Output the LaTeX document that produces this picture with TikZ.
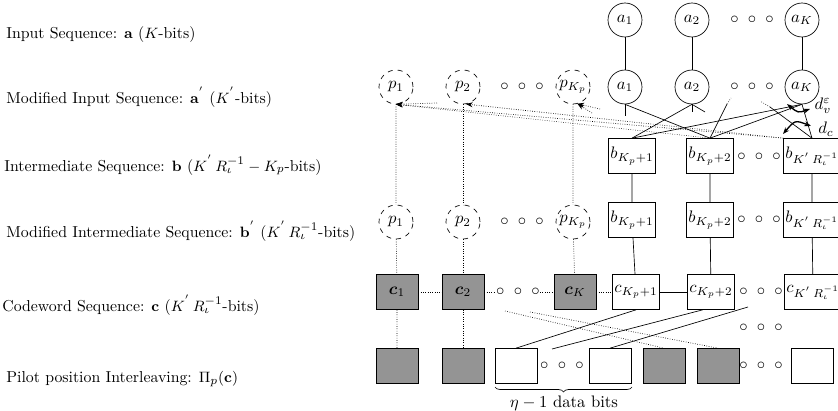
\documentclass[tikz,border=0pt]{standalone}
\usepackage{amsmath,bm}
\usetikzlibrary{decorations.pathreplacing,arrows.meta}
\begin{document}
\begin{tikzpicture}[x=0.6pt,y=-0.6pt,
	circ/.style={draw,circle,minimum size=20.4pt,inner sep=0pt},
	pcirc/.style={circ,dashed},
	bit/.style={draw,rectangle,minimum width=25.2pt,minimum height=21pt,inner sep=1pt},
	pilot/.style={bit,fill=black!42},
	dots/.style={inner sep=0pt},
	lbl/.style={anchor=west,inner sep=0pt,font=\fontsize{9.5}{11}\selectfont},
	pline/.style={densely dotted},
	parr/.style={densely dotted,-{Stealth[length=4pt,width=3pt]}},
	degarr/.style={line width=0.8pt,{Stealth[length=4pt]}-{Stealth[length=4pt]}}]
		\useasboundingbox (0,0) rectangle (838,411);
		\node [lbl] (la) at (6,35) {Input Sequence: $\mathbf{a}$ ($K$-bits)};
		\node [lbl] (lam) at (6,97) {Modified Input Sequence: $\mathbf{a}^{'}$ ($K^{'}$-bits)};
		\node [lbl] (lb) at (4,165) {Intermediate Sequence: $\mathbf{b}$ ($K^{'}\,R_{\iota}^{-1}-K_p$-bits)};
		\node [lbl] (lbm) at (6,231) {Modified Intermediate Sequence: $\mathbf{b}^{'}$ ($K^{'}\,R_{\iota}^{-1}$-bits)};
		\node [lbl] (lc) at (2,305) {Codeword Sequence: $\mathbf{c}$ ($K^{'}\,R_{\iota}^{-1}$-bits)};
		\node [lbl] (lpi) at (6,379) {Pilot position Interleaving: $\Pi_p(\mathbf{c})$};
		\node [circ] (a1) at (625,20) {$a_1$};
		\node [circ] (a2) at (692,20) {$a_2$};
		\node [circ] (aK) at (802,20) {$a_K$};
		\node [dots] (da) at (752,20) {$\circ\ \circ\ \circ$};
		\node [pcirc] (p1) at (396,87) {$p_1$};
		\node [pcirc] (p2) at (463,87) {$p_2$};
		\node [pcirc] (pK) at (573,87) {$p_{K_p}$};
		\node [dots] (dp) at (522,87) {$\circ\ \circ\ \circ$};
		\node [circ] (a1m) at (625,87) {$a_1$};
		\node [circ] (a2m) at (692,87) {$a_2$};
		\node [circ] (aKm) at (802,87) {$a_K$};
		\node [dots] (dam) at (752,87) {$\circ\ \circ\ \circ$};
		\node [bit] (b1) at (632,156) {$b_{K_p+1}$};
		\node [bit] (b2) at (710,156) {$b_{K_p+2}$};
		\node [bit] (bK) at (812,156) {$b_{K^{'}\,R_{\iota}^{-1}}$};
		\node [dots] (db) at (759,157) {$\circ\ \circ\ \circ$};
		\node [pcirc] (p1m) at (396,222) {$p_1$};
		\node [pcirc] (p2m) at (463,222) {$p_2$};
		\node [pcirc] (pKm) at (573,222) {$p_{K_p}$};
		\node [dots] (dpm) at (522,222) {$\circ\ \circ\ \circ$};
		\node [bit] (b1m) at (632,220) {$b_{K_p+1}$};
		\node [bit] (b2m) at (710,220) {$b_{K_p+2}$};
		\node [bit] (bKm) at (812,220) {$b_{K^{'}\,R_{\iota}^{-1}}$};
		\node [dots] (dbm) at (759,220) {$\circ\ \circ\ \circ$};
		\node [pilot] (c1) at (397,292) {$\bm{c}_1$};
		\node [pilot] (c2) at (463,292) {$\bm{c}_2$};
		\node [pilot] (cK) at (575,292) {$\bm{c}_K$};
		\node [dots] (dc1) at (518,292) {$\circ\ \circ\ \circ$};
		\node [bit] (cp1) at (636,292) {$c_{K_p+1}$};
		\node [bit] (cp2) at (711,292) {$c_{K_p+2}$};
		\node [bit] (cKR) at (813,292) {$c_{K^{'}\,R_{\iota}^{-1}}$};
		\node [dots] (dc2) at (761,292) {$\circ\ \circ\ \circ$};
		\node [dots] (dx) at (761,328) {$\circ\ \circ\ \circ$};
		\node [pilot] (q1) at (397,366) {};
		\node [pilot] (q2) at (463,366) {};
		\node [bit] (q3) at (516,366) {};
		\node [dots] (dq1) at (562,366) {$\circ\ \circ\ \circ$};
		\node [bit] (q4) at (610,366) {};
		\node [pilot] (q5) at (664,366) {};
		\node [pilot] (q6) at (718,366) {};
		\node [dots] (dq2) at (761,366) {$\circ\ \circ\ \circ$};
		\node [bit] (q7) at (812,366) {};
		\draw (a1) -- (a1m);
		\draw (a2) -- (a2m);
		\draw (aK) -- (aKm);
		\draw (b1) -- (b1m) -- (cp1);
		\draw (b2) -- (b2m) -- (cp2);
		\draw (bK) -- (bKm) -- (cKR);
		\draw [pline] (p1) -- (p1m) -- (c1) -- (q1);
		\draw [pline] (p2) -- (p2m) -- (c2) -- (q2);
		\draw [pline] (pK) -- (pKm) -- (cK);
		\draw [pline] (c1) -- (c2) -- (dc1) -- (cK) -- (cp1);
		\draw (cp1) -- (cp2);
		\draw (a1m.south) -- (b2.north);
		\draw (a2m.south) -- (b1.north);
		\draw (b1.north) -- (aKm.south);
		\draw (b2.north) -- (aKm.south);
		\draw (bK.north) -- (aKm.south);
		\coordinate (s1) at (625,116);
		\coordinate (s2) at (692,112);
		\coordinate (s3) at (705,112);
		\coordinate (s4) at (727,104);
		\coordinate (s4e) at (731,98);
		\coordinate (s5) at (770,107);
		\coordinate (s5e) at (760,101);
		\draw (a1m.south) -- (s1);
		\draw (a2m.south) -- (s2);
		\draw (a2m.south) -- (s3);
		\draw (b2.north) -- (s4);
		\draw [pline] (s4) -- (s4e);
		\draw (bK.north) -- (s5);
		\draw [pline] (s5) -- (s5e);
		\coordinate (t1) at (437,103);
		\coordinate (t2) at (600,109);
		\coordinate (t3) at (592,113);
		\draw [parr] (b2.north) -- (p1.south);
		\draw [parr] (bK.north west) -- (p1.south);
		\draw [parr] (bK.north west) -- (p2.-80);
		\draw [parr] (t1) -- (p1.south);
		\draw [parr] (t2) -- (pK.-75);
		\draw [parr] (t3) -- (pK.-75);
		\coordinate (dv1) at (787,104);
		\coordinate (dv2) at (810,109);
		\coordinate (dc1a) at (783,134);
		\coordinate (dc2a) at (811,126);
		\draw [degarr] (dv1) .. controls (798,113) .. (dv2);
		\draw [degarr] (dc1a) .. controls (795,120) .. (dc2a);
		\node [inner sep=0pt] (lv) at (823,106) {$d_v^{\varepsilon}$};
		\node [inner sep=0pt] (ldc) at (826,129) {$d_c$};
		\coordinate (u1) at (552,349);
		\coordinate (u2) at (748,307);
		\coordinate (u3) at (505,311);
		\coordinate (u4) at (530,312);
		\draw (cp1.south) -- (q3.north);
		\draw (cp2.-115) -- (u1);
		\draw (u2) -- (q4.north);
		\draw [pline] (u3) -- (q5.north);
		\draw [pline] (u4) -- (q6.north);
		\coordinate (br1) at (495,387);
		\coordinate (br2) at (632,387);
		\draw [decorate,decoration={brace,mirror,amplitude=3pt}] (br1) -- (br2);
		\node (lbits) at (564,403) {$\eta-1$ data bits};
	\end{tikzpicture}
\end{document}
